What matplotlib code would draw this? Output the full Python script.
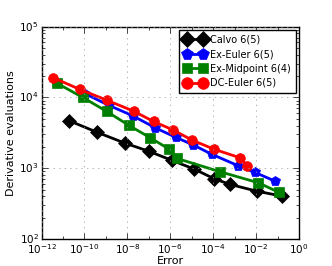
import matplotlib
matplotlib.use("Agg")
import matplotlib.pyplot as plt
from matplotlib.ticker import LogLocator, FixedLocator, NullFormatter, LogFormatterSciNotation

plt.style.use("classic")
plt.rcParams["mathtext.fontset"] = "dejavusans"

# Calvo 6(5)
calvo_err = [1.95e-11, 3.98e-10, 7.4e-9, 9.8e-8, 1.2e-6, 1.32e-5, 1.12e-4, 6.2e-4, 1.07e-2, 0.158]
calvo_evals = [4680, 3210, 2270, 1740, 1290, 970, 710, 590, 474, 404]

# Ex-Euler 6(5)
exeuler_err = [1.12e-10, 1.35e-9, 1.78e-8, 2.0e-7, 1.86e-6, 1.15e-5, 8.7e-5, 1.51e-3, 8.9e-3, 7.6e-2]
exeuler_evals = [11200, 7750, 5500, 3720, 2720, 2140, 1570, 1080, 870, 658]

# Ex-Midpoint 6(4)
exmid_err = [5.4e-12, 8.3e-11, 1.1e-9, 1.17e-8, 1.17e-7, 8.3e-7, 2.04e-6, 2.14e-4, 1.29e-2, 0.117]
exmid_evals = [15800, 10000, 6340, 4030, 2690, 1880, 1375, 890, 622, 455]

# DC-Euler 6(5)
dceuler_err = [3.47e-12, 6.0e-11, 1.17e-9, 1.95e-8, 1.66e-7, 1.41e-6, 1.02e-5, 1.07e-4, 1.82e-3, 3.98e-3]
dceuler_evals = [19000, 13000, 9070, 6400, 4570, 3450, 2500, 1860, 1400, 1080]

x_major = [1e-12, 1e-10, 1e-8, 1e-6, 1e-4, 1e-2, 1e0]
x_minor = [1e-11, 1e-9, 1e-7, 1e-5, 1e-3, 1e-1]

fig = plt.figure(figsize=(3.32, 2.66), dpi=100)
fig.patch.set_facecolor("white")
ax = fig.add_axes([0.125, 0.1015, 0.7756, 0.7985])

ax.loglog(calvo_err, calvo_evals, "k-D", lw=2, ms=7, mec="k", label="Calvo 6(5)")
ax.loglog(exeuler_err, exeuler_evals, "b-p", lw=2, ms=7, mec="b", label="Ex-Euler 6(5)")
ax.loglog(exmid_err, exmid_evals, "g-s", lw=2, ms=6.5, mec="g", label="Ex-Midpoint 6(4)")
ax.loglog(dceuler_err, dceuler_evals, "r-o", lw=2, ms=7, mec="r", label="DC-Euler 6(5)")

ax.set_xlim(1e-12, 1e0)
ax.set_ylim(1e2, 1e5)
ax.xaxis.set_major_locator(FixedLocator(x_major))
ax.xaxis.set_minor_locator(FixedLocator(x_minor))
ax.xaxis.set_major_formatter(LogFormatterSciNotation())
ax.xaxis.set_minor_formatter(NullFormatter())
ax.yaxis.set_minor_locator(LogLocator(base=10, subs=range(2, 10)))
ax.yaxis.set_minor_formatter(NullFormatter())
ax.grid(True, which="major", color="0.6", linestyle=":")
ax.tick_params(labelsize=7.5, length=4, pad=2)
ax.tick_params(which="minor", length=2)

ax.set_xlabel("Error", fontsize=8, labelpad=0)
ax.set_ylabel("Derivative evaluations", fontsize=8, labelpad=2)

leg = ax.legend(loc="upper right", fontsize=7, numpoints=2, handlelength=2.3,
                borderpad=0.5, labelspacing=0.45, handletextpad=0.4,
                borderaxespad=0.35, markerscale=1.2)
leg.get_frame().set_linewidth(1)

fig.savefig("out.png", dpi=100, facecolor="white")
